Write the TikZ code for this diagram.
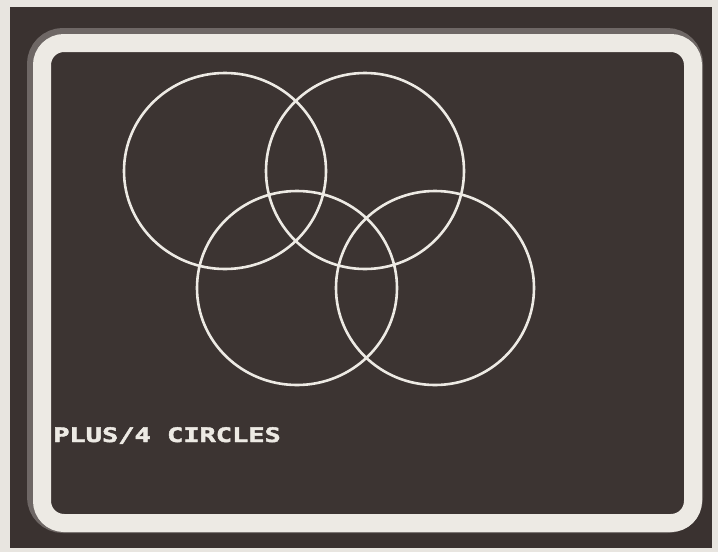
\documentclass[tikz,border=0pt]{standalone}
\usepackage{fontspec}
\newfontfamily\screenfont[FakeBold=2]{DejaVu Sans Mono Bold}
\usetikzlibrary{positioning}
\definecolor{paper}{HTML}{E8E5E0}
\definecolor{cabinet}{HTML}{3A3230}
\definecolor{screen}{HTML}{3C3432}
\definecolor{phosphor}{HTML}{EDEAE4}
\definecolor{halo}{HTML}{6E6765}

\begin{document}
\begin{tikzpicture}[x=1pt, y=-1pt,
  ring/.style={draw=phosphor, line width=2.6pt},
  bezel/.style={draw=phosphor, line width=18pt, rounded corners=22pt},
  label/.style={text=phosphor, font=\screenfont\fontsize{20}{20}\selectfont, xscale=1.35, inner sep=0pt}]
% page and monitor body
\fill[paper] (0,0) rectangle (718,552);
\useasboundingbox (0,0) rectangle (718,552);
\fill[cabinet] (10,7) rectangle (712,548);
% screen with its white edge
\draw[halo, line width=24pt, rounded corners=24pt] (39,40) rectangle (691,521);
\fill[screen] (42,43) rectangle (693,523);
\draw[bezel] (42,43) rectangle (693,523);
% the four circles
\draw[ring] (225,171) circle [x radius=101pt, y radius=98pt];
\draw[ring] (365,171) circle [x radius=99pt, y radius=98pt];
\draw[ring] (297,288) circle [x radius=100pt, y radius=97pt];
\draw[ring] (435,288) circle [x radius=99pt, y radius=97pt];
% caption
\node[label, anchor=base west] (caption) at (53,442) {PLUS/4 CIRCLES};
\end{tikzpicture}
\end{document}
